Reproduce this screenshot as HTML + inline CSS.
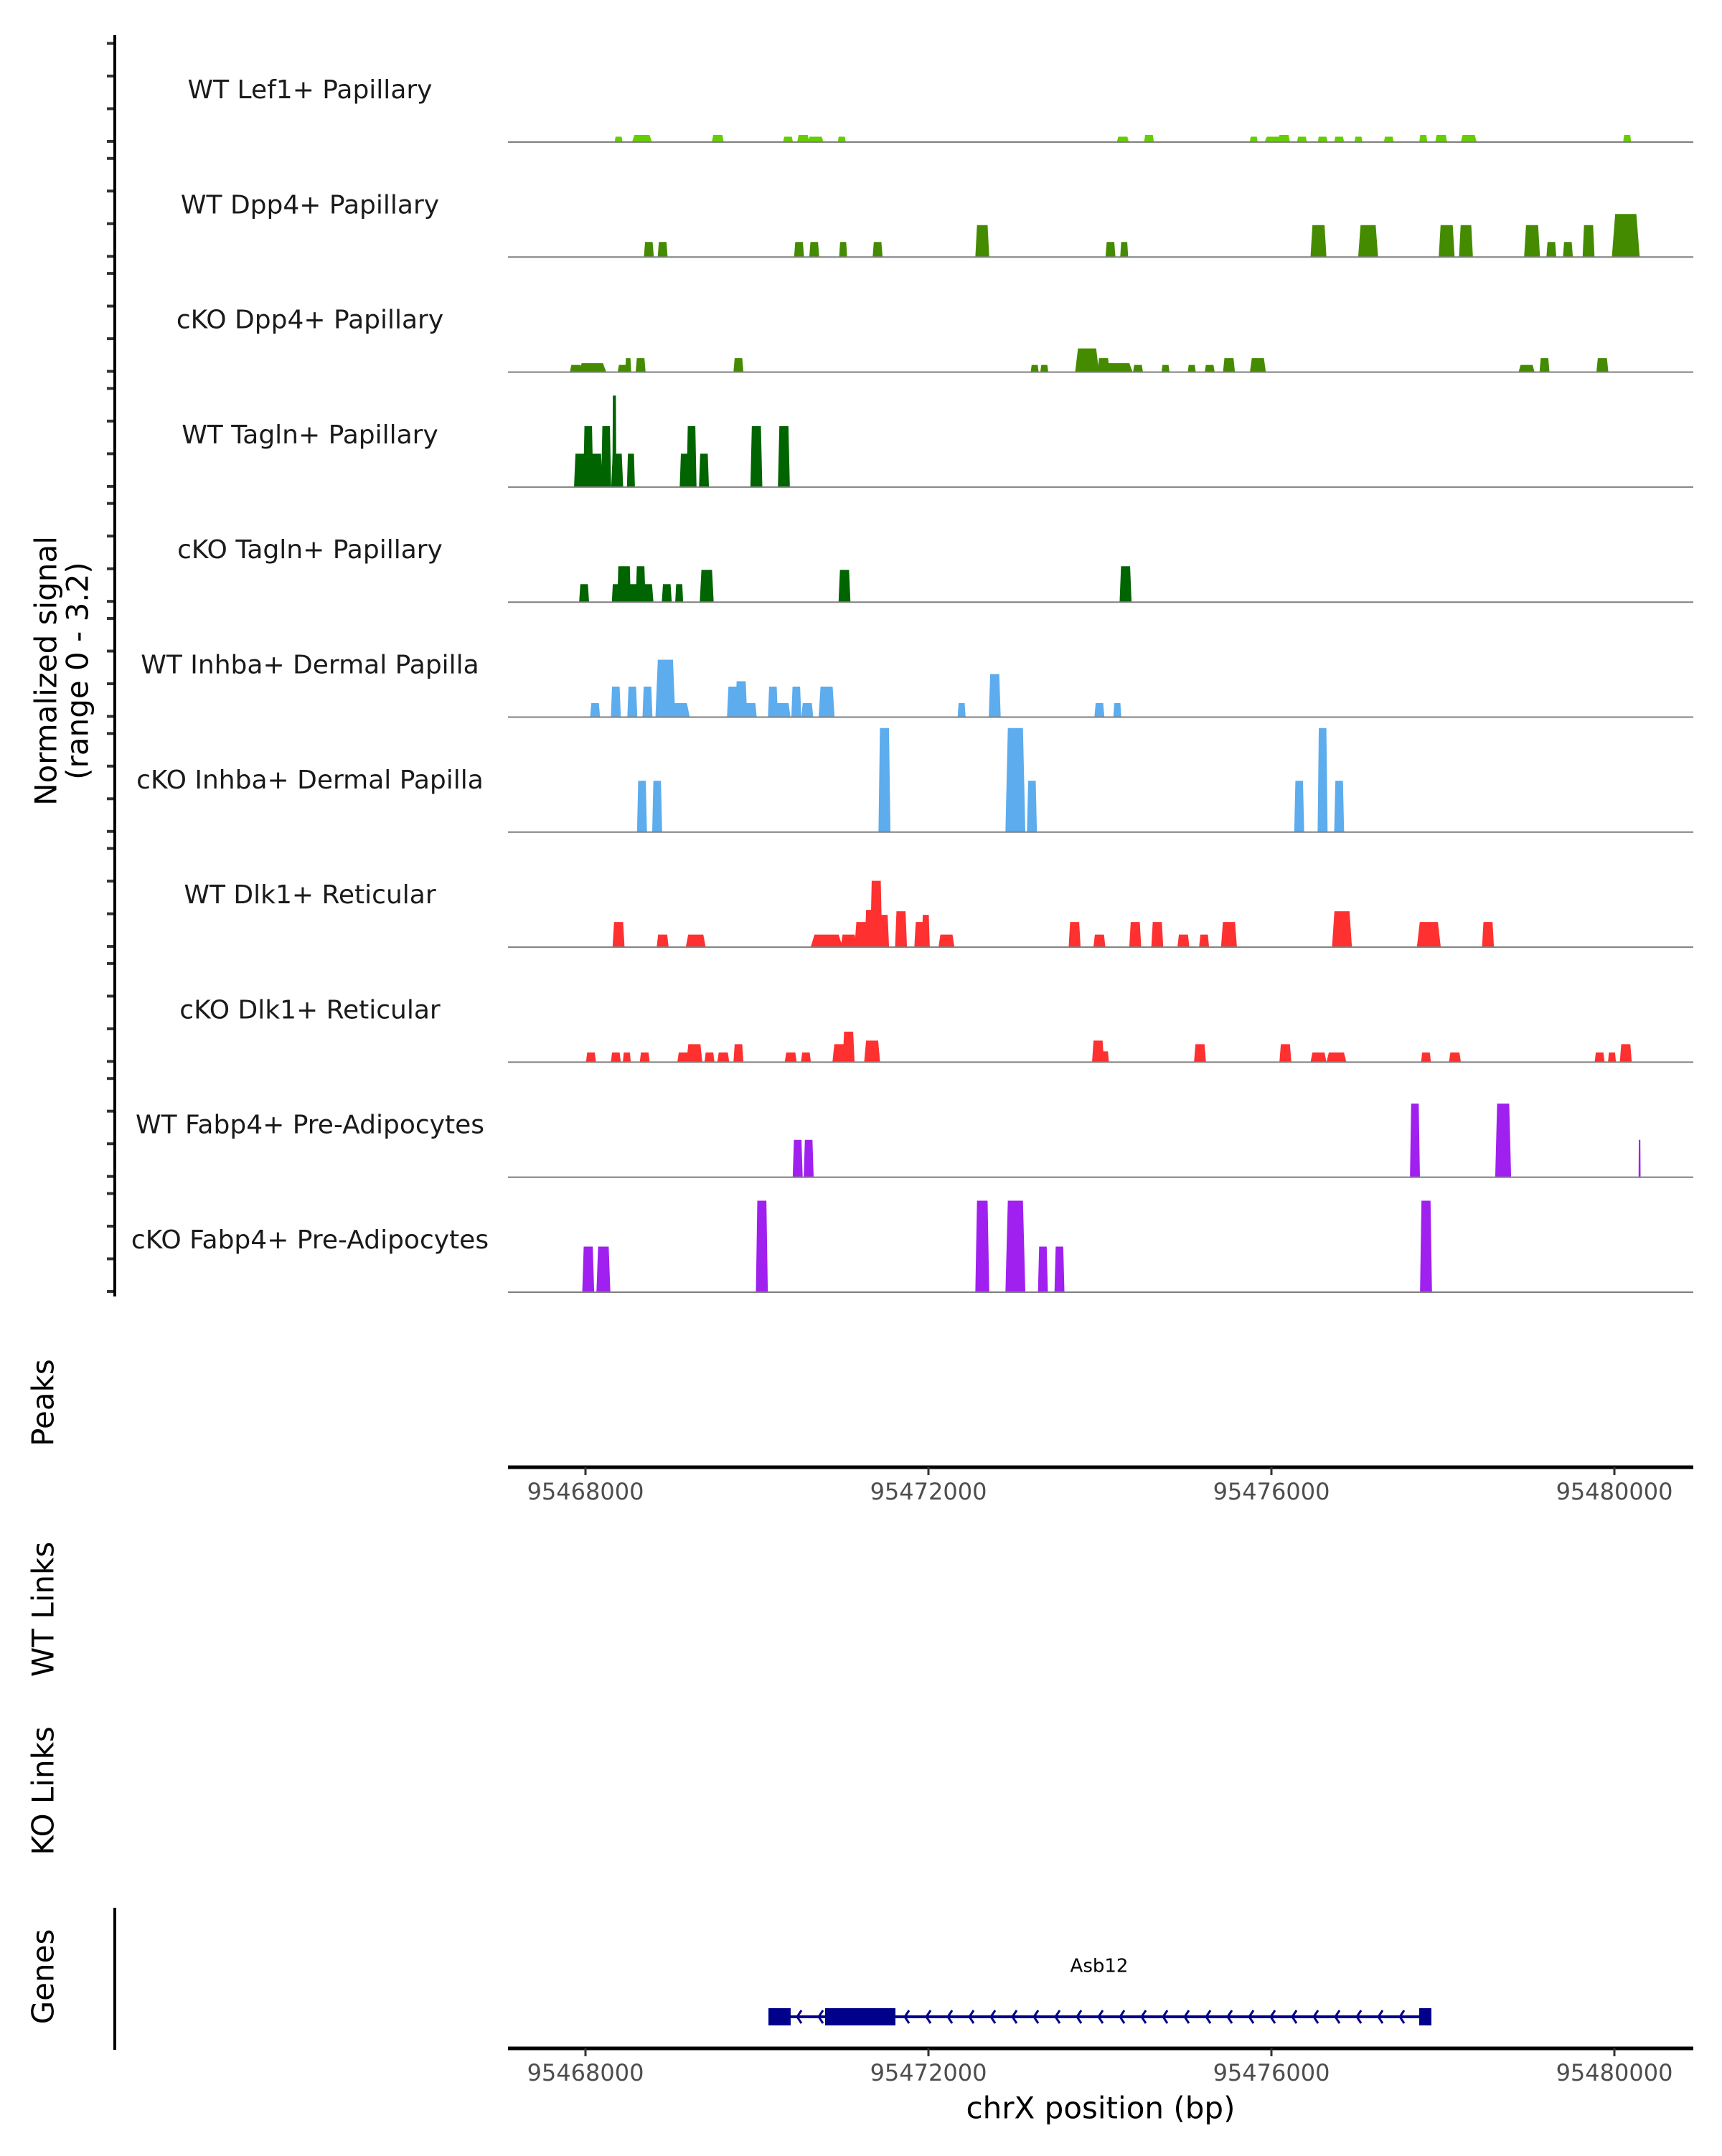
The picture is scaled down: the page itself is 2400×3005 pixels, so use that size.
<!DOCTYPE html>
<html><head><meta charset="utf-8"><style>
html,body{margin:0;padding:0;background:#fff;}
svg text{font-family:"DejaVu Sans","Liberation Sans",sans-serif;}
</style></head><body>
<svg id="chart" xmlns="http://www.w3.org/2000/svg" width="2400" height="3000" viewBox="0 0 2400 3000">
<rect width="2400" height="3000" fill="#fff"/>
<g id="tracks"></g>
<g id="yaxis"></g>
<text transform="translate(67,935) rotate(-90)" text-anchor="middle" dominant-baseline="middle" font-size="42" fill="#000">Normalized signal</text>
<text transform="translate(111,935) rotate(-90)" text-anchor="middle" dominant-baseline="middle" font-size="42" fill="#000">(range 0 - 3.2)</text>
<text transform="translate(63,1955) rotate(-90)" text-anchor="middle" dominant-baseline="middle" font-size="42" fill="#000">Peaks</text>
<text transform="translate(63,2243) rotate(-90)" text-anchor="middle" dominant-baseline="middle" font-size="42" fill="#000">WT Links</text>
<text transform="translate(63,2496) rotate(-90)" text-anchor="middle" dominant-baseline="middle" font-size="42" fill="#000">KO Links</text>
<text transform="translate(63,2755) rotate(-90)" text-anchor="middle" dominant-baseline="middle" font-size="42" fill="#000">Genes</text>
<line x1="160" y1="2659" x2="160" y2="2857" stroke="#000" stroke-width="4"/>
<g id="xaxes"></g>
<g id="gene"></g>
<text x="1534" y="2941" text-anchor="middle" dominant-baseline="middle" font-size="42" fill="#000">chrX position (bp)</text>
</svg>
<script>
// genomic offsets are bp - 95460000
const trackNames = ["WT Lef1+ Papillary","WT Dpp4+ Papillary","cKO Dpp4+ Papillary","WT Tagln+ Papillary","cKO Tagln+ Papillary","WT Inhba+ Dermal Papilla","cKO Inhba+ Dermal Papilla","WT Dlk1+ Reticular","cKO Dlk1+ Reticular","WT Fabp4+ Pre-Adipocytes","cKO Fabp4+ Pre-Adipocytes"];
const trackColors = ["#66CD00","#458B00","#458B00","#006400","#006400","#5CACEE","#5CACEE","#FF3030","#FF3030","#A020F0","#A020F0"];

const t1_pos = [8386,8659,9543,10362,10539,10684,10989,14267,14572,15794,16035,16147,16356,16597,16790,17015,17369,17771,17980,18301,20149];
const t1_wid = [64,160,96,80,96,128,64,96,80,64,160,96,80,80,80,64,80,64,96,128,64];
const t1_val = [0.15,0.2,0.2,0.15,0.2,0.15,0.15,0.15,0.2,0.15,0.15,0.2,0.15,0.15,0.15,0.15,0.15,0.2,0.2,0.2,0.2];

const t2_pos = [8739,8900,10491,10668,11005,11407,12628,14123,14283,16549,17128,18044,18269,19040,19265,19458,19699,20133];
const t2_wid = [80,80,80,80,64,80,112,80,64,128,160,128,112,128,80,80,96,224];
const t2_val = [0.42,0.42,0.42,0.42,0.42,0.42,0.89,0.42,0.42,0.89,0.89,0.89,0.89,0.89,0.42,0.42,0.89,1.2];

const t3_pos = [7888,8080,8434,8498,8643,9784,13239,13351,13850,14042,14219,14444,14765,15071,15280,15505,15842,18976,19185,19860];
const t3_wid = [96,224,80,48,80,80,64,64,192,96,224,80,64,64,80,96,128,128,80,96];
const t3_val = [0.2,0.25,0.2,0.39,0.39,0.39,0.2,0.2,0.66,0.39,0.25,0.2,0.2,0.2,0.2,0.39,0.39,0.2,0.39,0.39];

const t4_pos = [7936,8032,8129,8241,8337,8370,8530,9157,9237,9382,9993,10314];
const t4_wid = [96,80,96,80,32,96,64,80,80,80,96,96];
const t4_val = [0.93,1.7,0.93,1.7,2.55,0.93,0.93,0.93,1.7,0.93,1.7,1.7];

const t5_pos = [7984,8354,8418,8482,8546,8643,8723,8948,9093,9414,11021,14299];
const t5_wid = [80,64,64,64,96,80,96,80,64,112,96,96];
const t5_val = [0.5,0.5,1.0,1.0,0.5,1.0,0.5,0.5,0.5,0.9,0.9,1.0];

const t6_pos = [8112,8354,8546,8723,8932,9077,9720,9816,9928,10186,10298,10459,10587,10812,12387,12773,13994,14203];
const t6_wid = [80,80,80,80,160,192,96,96,96,80,128,80,96,128,64,96,80,64];
const t6_val = [0.39,0.85,0.85,0.85,1.6,0.39,0.85,1.0,0.39,0.85,0.39,0.85,0.39,0.85,0.39,1.2,0.39,0.39];

const t7_pos = [8659,8836,11487,13014,13207,16324,16597,16790];
const t7_wid = [80,80,96,160,80,80,80,80];
const t7_val = [1.43,1.43,2.9,2.9,1.43,1.43,2.9,1.43];

const t8_pos = [8386,8900,9286,10812,11069,11230,11326,11391,11471,11680,11905,11969,12210,13705,13994,14412,14669,14974,15215,15505,16823,17836,18526];
const t8_wid = [96,96,160,256,128,128,96,96,96,96,96,64,128,96,96,96,96,96,80,128,160,192,96];
const t8_val = [0.7,0.35,0.35,0.35,0.35,0.7,1.04,1.85,0.9,1.0,0.7,0.9,0.35,0.7,0.35,0.7,0.7,0.35,0.35,0.7,1.0,0.7,0.7];

const t9_pos = [8064,8354,8482,8691,9141,9270,9446,9607,9784,10394,10571,10973,11069,11343,13978,14058,15167,16163,16549,16758,17803,18140,19828,19972,20133];
const t9_wid = [80,80,64,80,96,128,80,96,80,96,80,128,96,128,96,64,96,96,128,160,80,96,80,64,96];
const t9_val = [0.27,0.27,0.27,0.27,0.27,0.5,0.27,0.27,0.5,0.27,0.27,0.5,0.85,0.6,0.6,0.3,0.5,0.5,0.27,0.27,0.27,0.27,0.27,0.27,0.5];

const t10_pos = [10475,10603,17674,18703,20294];
const t10_wid = [80,80,80,128,16];
const t10_val = [1.04,1.04,2.05,2.05,1.04];

const t11_pos = [8032,8209,10057,12628,13014,13335,13528,17803];
const t11_wid = [96,112,96,112,160,80,80,96];
const t11_val = [1.27,1.27,2.55,2.55,2.55,1.27,1.27,2.55];

const xTickVals = [95468000,95472000,95476000,95480000];
const xTickLabels = ["95468000","95472000","95476000","95480000"];
const signalTicks = [0,1,2,3];

const geneExons = [[10134,10393],[10795,11615],[17724,17866]];
const geneSpan = [10134,17866];

const allPos=[t1_pos,t2_pos,t3_pos,t4_pos,t5_pos,t6_pos,t7_pos,t8_pos,t9_pos,t10_pos,t11_pos];
const allWid=[t1_wid,t2_wid,t3_wid,t4_wid,t5_wid,t6_wid,t7_wid,t8_wid,t9_wid,t10_wid,t11_wid];
const allVal=[t1_val,t2_val,t3_val,t4_val,t5_val,t6_val,t7_val,t8_val,t9_val,t10_val,t11_val];

const NS="http://www.w3.org/2000/svg";
const X0=708, X1=2360;
const widthFactor=1.45;
function xOff(off){return 816+(off-8000)*0.1195;}
function xBp(bp){return 816+(bp-95468000)*0.1195;}
const base0=198, trackStep=160.3, unitPx=50, tickPx=45.5;
function baseY(i){return base0+i*trackStep;}
function yv(i,v){return baseY(i)-v*unitPx;}
function mk(tag,attrs,parent){const e=document.createElementNS(NS,tag);for(const k in attrs)e.setAttribute(k,attrs[k]);parent.appendChild(e);return e;}

const tracks=document.getElementById('tracks');
const yaxis=document.getElementById('yaxis');
for(let i=0;i<trackNames.length;i++){
  const g=mk('g',{},tracks);
  
  
  const lab=mk('text',{x:432,y:baseY(i)-71,'text-anchor':'middle','dominant-baseline':'middle','font-size':36,fill:'#1a1a1a'},g);
  lab.textContent=trackNames[i];
  
  
  const pos=allPos[i],wid=allWid[i],val=allVal[i];
  for(let j=0;j<pos.length;j++){
    const c=pos[j],w=wid[j]*widthFactor,v=val[j];
    const xa=xOff(c-w/2),xb=xOff(c-w*0.38),xc=xOff(c+w*0.38),xd=xOff(c+w/2);
    const b=baseY(i),t=yv(i,v);
    const p=mk('polygon',{points:`${xa},${b} ${xb},${t} ${xc},${t} ${xd},${b}`,fill:trackColors[i]},g);
    
    
  }
  const bl=mk('line',{x1:X0,x2:X1,y1:baseY(i),y2:baseY(i),stroke:'#7f7f7f','stroke-width':2},g);
  
  
  for(const tv of signalTicks){
    const ty=baseY(i)-1-tv*tickPx;
    const tk=mk('line',{x1:149,x2:160,y1:ty,y2:ty,stroke:'#333','stroke-width':4},yaxis);
    
    
  }
}
const ya=mk('line',{x1:160,x2:160,y1:49,y2:1807,stroke:'#000','stroke-width':4},yaxis);



const xaxes=document.getElementById('xaxes');
[2045,2855].forEach((ay,k)=>{
  const g=mk('g',{},xaxes);
  
  
  mk('line',{x1:X0,x2:X1,y1:ay,y2:ay,stroke:'#000','stroke-width':5},g);
  xTickVals.forEach((tv,ti)=>{
    const x=xBp(tv);
    const t=mk('line',{x1:x,x2:x,y1:ay,y2:ay+11,stroke:'#333','stroke-width':3},g);
    
    
    const l=mk('text',{x:x,y:ay+36,'text-anchor':'middle','dominant-baseline':'middle','font-size':32,fill:'#4d4d4d'},g);
    l.textContent=xTickLabels[ti];
    
    
  });
});

const gene=document.getElementById('gene');
const gy=2811;
const gl=mk('line',{x1:xOff(geneSpan[0]),x2:xOff(geneSpan[1]),y1:gy,y2:gy,stroke:'#00008B','stroke-width':4},gene);


for(let x=xOff(geneSpan[0])+40;x<xOff(geneSpan[1])-10;x+=30){
  const a=mk('polyline',{points:`${x+6},${gy-9} ${x},${gy} ${x+6},${gy+9}`,fill:'none',stroke:'#00008B','stroke-width':3},gene);
  
  
}
geneExons.forEach(e=>{
  const r=mk('rect',{x:xOff(e[0]),y:gy-12,width:xOff(e[1])-xOff(e[0]),height:24,fill:'#00008B'},gene);
  
  
});
const gt=mk('text',{x:1532,y:2741,'text-anchor':'middle','dominant-baseline':'middle','font-size':26,fill:'#000'},gene);
gt.textContent='Asb12';


</script>
</body></html>
